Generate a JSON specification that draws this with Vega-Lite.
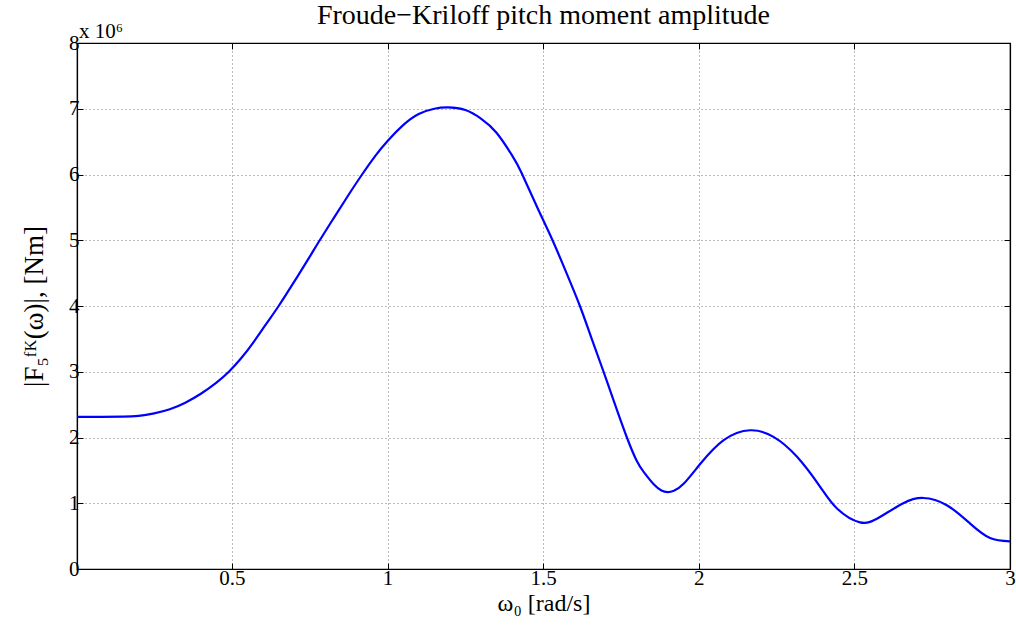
{
  "$schema": "https://vega.github.io/schema/vega-lite/v6.json",
  "width": 933,
  "height": 526,
  "autosize": "none",
  "padding": {"left": 77, "top": 43, "right": 6, "bottom": 66},
  "background": "white",
  "config": {
    "font": "Liberation Serif",
    "view": {"stroke": "black", "strokeWidth": 1.2},
    "axis": {"labelFont": "Liberation Serif", "titleFont": "Liberation Serif", "labelColor": "black", "titleColor": "black", "domainColor": "black", "tickColor": "black", "titleFontWeight": "normal"}
  },
  "title": {"text": "Froude−Kriloff pitch moment amplitude", "font": "Liberation Serif", "fontSize": 28, "fontWeight": "normal", "color": "black", "offset": 12, "dy": 21},
  "resolve": {"axis": {"x": "independent", "y": "independent"}},
  "layer": [
    {
      "data": {"name": "curve", "values": [
        {"w": 0.002, "F": 2.315},
        {"w": 0.08, "F": 2.315},
        {"w": 0.15, "F": 2.317},
        {"w": 0.2, "F": 2.33},
        {"w": 0.25, "F": 2.368},
        {"w": 0.3, "F": 2.43},
        {"w": 0.35, "F": 2.53},
        {"w": 0.4, "F": 2.665},
        {"w": 0.45, "F": 2.835},
        {"w": 0.49, "F": 3.0},
        {"w": 0.53, "F": 3.208},
        {"w": 0.57, "F": 3.456},
        {"w": 0.61, "F": 3.728},
        {"w": 0.65, "F": 4.0},
        {"w": 0.7, "F": 4.37},
        {"w": 0.75, "F": 4.75},
        {"w": 0.778, "F": 4.97},
        {"w": 0.83, "F": 5.36},
        {"w": 0.88, "F": 5.73},
        {"w": 0.918, "F": 6.0},
        {"w": 0.96, "F": 6.28},
        {"w": 1.0, "F": 6.51},
        {"w": 1.05, "F": 6.75},
        {"w": 1.1, "F": 6.92},
        {"w": 1.15, "F": 7.0},
        {"w": 1.195, "F": 7.02},
        {"w": 1.25, "F": 6.98},
        {"w": 1.3, "F": 6.85},
        {"w": 1.35, "F": 6.635},
        {"w": 1.4, "F": 6.29},
        {"w": 1.431, "F": 6.02},
        {"w": 1.48, "F": 5.51},
        {"w": 1.53, "F": 5.0},
        {"w": 1.575, "F": 4.5},
        {"w": 1.618, "F": 4.0},
        {"w": 1.656, "F": 3.5},
        {"w": 1.694, "F": 3.0},
        {"w": 1.731, "F": 2.5},
        {"w": 1.769, "F": 2.0},
        {"w": 1.8, "F": 1.65},
        {"w": 1.824, "F": 1.47},
        {"w": 1.856, "F": 1.285},
        {"w": 1.88, "F": 1.195},
        {"w": 1.899, "F": 1.17},
        {"w": 1.92, "F": 1.19},
        {"w": 1.952, "F": 1.30},
        {"w": 2.005, "F": 1.60},
        {"w": 2.08, "F": 1.96},
        {"w": 2.165, "F": 2.11},
        {"w": 2.24, "F": 2.01},
        {"w": 2.315, "F": 1.71},
        {"w": 2.39, "F": 1.25},
        {"w": 2.444, "F": 0.92},
        {"w": 2.518, "F": 0.71},
        {"w": 2.582, "F": 0.79},
        {"w": 2.657, "F": 1.0},
        {"w": 2.721, "F": 1.08},
        {"w": 2.797, "F": 0.97},
        {"w": 2.872, "F": 0.69},
        {"w": 2.936, "F": 0.47},
        {"w": 3.0, "F": 0.42}
      ]},
      "mark": {"type": "line", "color": "#0000ff", "strokeWidth": 2.2, "interpolate": "natural", "clip": true},
      "encoding": {
        "x": {"field": "w", "type": "quantitative", "scale": {"domain": [0.002, 3], "nice": false, "zero": false},
          "axis": {"values": [0.5, 1, 1.5, 2, 2.5, 3], "format": "~g", "title": "ω₀ [rad/s]", "titleFontSize": 24, "titlePadding": 3, "labelFontSize": 21, "labelPadding": 4, "tickSize": -6, "labelFlush": false, "grid": true, "gridColor": "#777777", "gridDash": [1, 3], "gridWidth": 1, "domainWidth": 1.2}},
        "y": {"field": "F", "type": "quantitative", "scale": {"domain": [0, 8], "nice": false},
          "axis": {"values": [0, 1, 2, 3, 4, 5, 6, 7, 8], "format": "d", "title": "|F₅ᶠᴷ(ω)|, [Nm]", "titleFontSize": 27, "titlePadding": 20, "labelFontSize": 21, "labelPadding": 4, "tickSize": -6, "labelFlush": false, "grid": true, "gridColor": "#777777", "gridDash": [1, 3], "gridWidth": 1, "domainWidth": 1.2}}
      }
    },
    {
      "data": {"name": "corner", "values": [{"w": 0.002, "F": 8, "label": "x 10⁶"}]},
      "mark": {"type": "text", "align": "left", "baseline": "alphabetic", "dy": -5, "dx": 2, "fontSize": 21, "font": "Liberation Serif", "color": "black"},
      "encoding": {
        "x": {"field": "w", "type": "quantitative", "axis": {"orient": "top", "values": [0.5, 1, 1.5, 2, 2.5, 3], "labels": false, "title": null, "tickSize": -6, "grid": false, "domainWidth": 1.2}},
        "y": {"field": "F", "type": "quantitative", "axis": {"orient": "right", "values": [0, 1, 2, 3, 4, 5, 6, 7, 8], "labels": false, "title": null, "tickSize": -6, "grid": false, "domainWidth": 1.2}},
        "text": {"field": "label"}
      }
    }
  ]
}
